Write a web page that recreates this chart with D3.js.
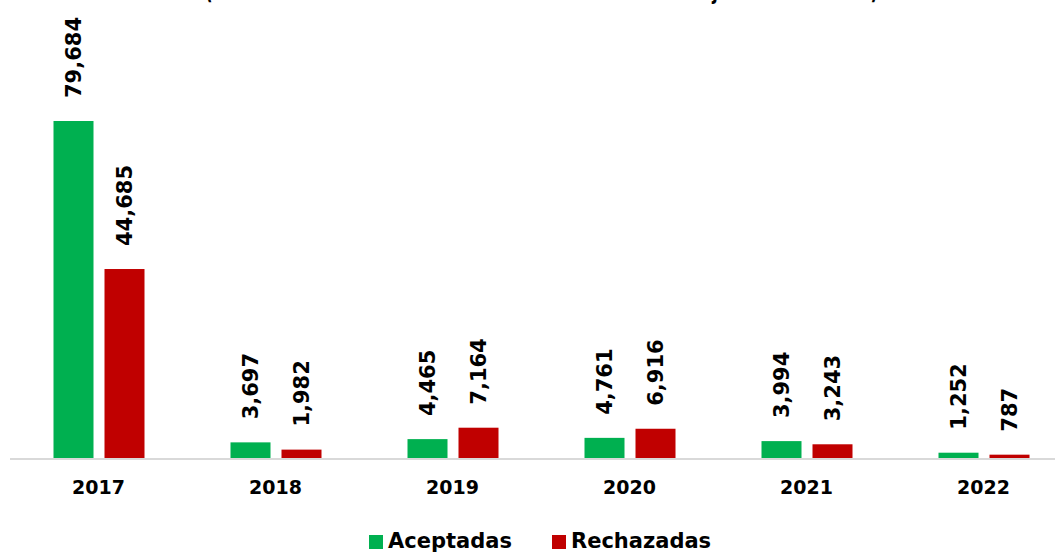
<!DOCTYPE html>
<html><head><meta charset="utf-8">
<script src="https://cdn.jsdelivr.net/npm/d3@7"></script>
<style>body{margin:0;background:#fff}svg{display:block}</style>
</head><body>
<svg id="c" width="1055" height="553"></svg>
<script>
const years = ["2017","2018","2019","2020","2021","2022"];
const aceptadas = [79684, 3697, 4465, 4761, 3994, 1252];
const rechazadas = [44685, 1982, 7164, 6916, 3243, 787];
const seriesNames = ["Aceptadas","Rechazadas"];
const colors = ["#00B050","#C00000"];
const titleText = "(Total de solicitudes atendidas en materia de asuntos jurídicos anuales)";

const svg = d3.select("#c");
const font = "'DejaVu Sans', sans-serif";
const base = 458;

const x = d3.scaleBand().domain(years).range([10, 1072]).paddingInner(0).paddingOuter(0);
const y = d3.scaleLinear().domain([0, 79684]).range([base, 121]);
const x1 = d3.scaleOrdinal().domain(seriesNames).range([-45, 6]);
const barW = 40;

// title (cut off at top)
svg.append("text").attr("x", 205).attr("y", -1)
  .attr("font-family", font).attr("font-weight", "bold").attr("font-size", 24)
  .attr("textLength", 673).attr("lengthAdjust", "spacingAndGlyphs")
  .attr("fill", "#000").text(titleText);

// axis line
svg.append("g").attr("transform", `translate(0,${base + 1})`)
  .call(d3.axisBottom(x).tickSize(0).tickPadding(22))
  .call(g => g.select(".domain").attr("stroke", "#d9d9d9").attr("stroke-width", 2).attr("d", "M10,0H1055"))
  .call(g => g.selectAll("text").attr("font-family", font).attr("font-weight", "bold")
    .attr("font-size", 19).attr("fill", "#000"));

const data = years.map((yr, i) => ({yr, vals: [aceptadas[i], rechazadas[i]]}));

const groups = svg.append("g").selectAll("g").data(data).join("g")
  .attr("transform", d => `translate(${x(d.yr) + x.bandwidth() / 2},0)`);

groups.selectAll("rect").data(d => d.vals.map((v, k) => ({v, k})))
  .join("rect")
  .attr("x", d => x1(seriesNames[d.k]))
  .attr("y", d => y(d.v))
  .attr("width", barW)
  .attr("height", d => base - y(d.v))
  .attr("fill", d => colors[d.k]);

groups.selectAll("text.lbl").data(d => d.vals.map((v, k) => ({v, k})))
  .join("text").attr("class", "lbl")
  .attr("transform", d => `translate(${x1(seriesNames[d.k]) + barW / 2},${y(d.v) - 23}) rotate(-90)`)
  .attr("dy", "0.36em")
  .attr("font-family", font).attr("font-weight", "bold").attr("font-size", 21)
  .attr("fill", "#000")
  .text(d => d3.format(",")(d.v));

// legend
const leg = svg.append("g");
const legX = [369, 552];
seriesNames.forEach((n, k) => {
  leg.append("rect").attr("x", legX[k]).attr("y", 535).attr("width", 14).attr("height", 14).attr("fill", colors[k]);
  leg.append("text").attr("x", legX[k] + 19).attr("y", 548)
    .attr("font-family", font).attr("font-weight", "bold").attr("font-size", 21)
    .attr("fill", "#000").text(n);
});
</script>
</body></html>
